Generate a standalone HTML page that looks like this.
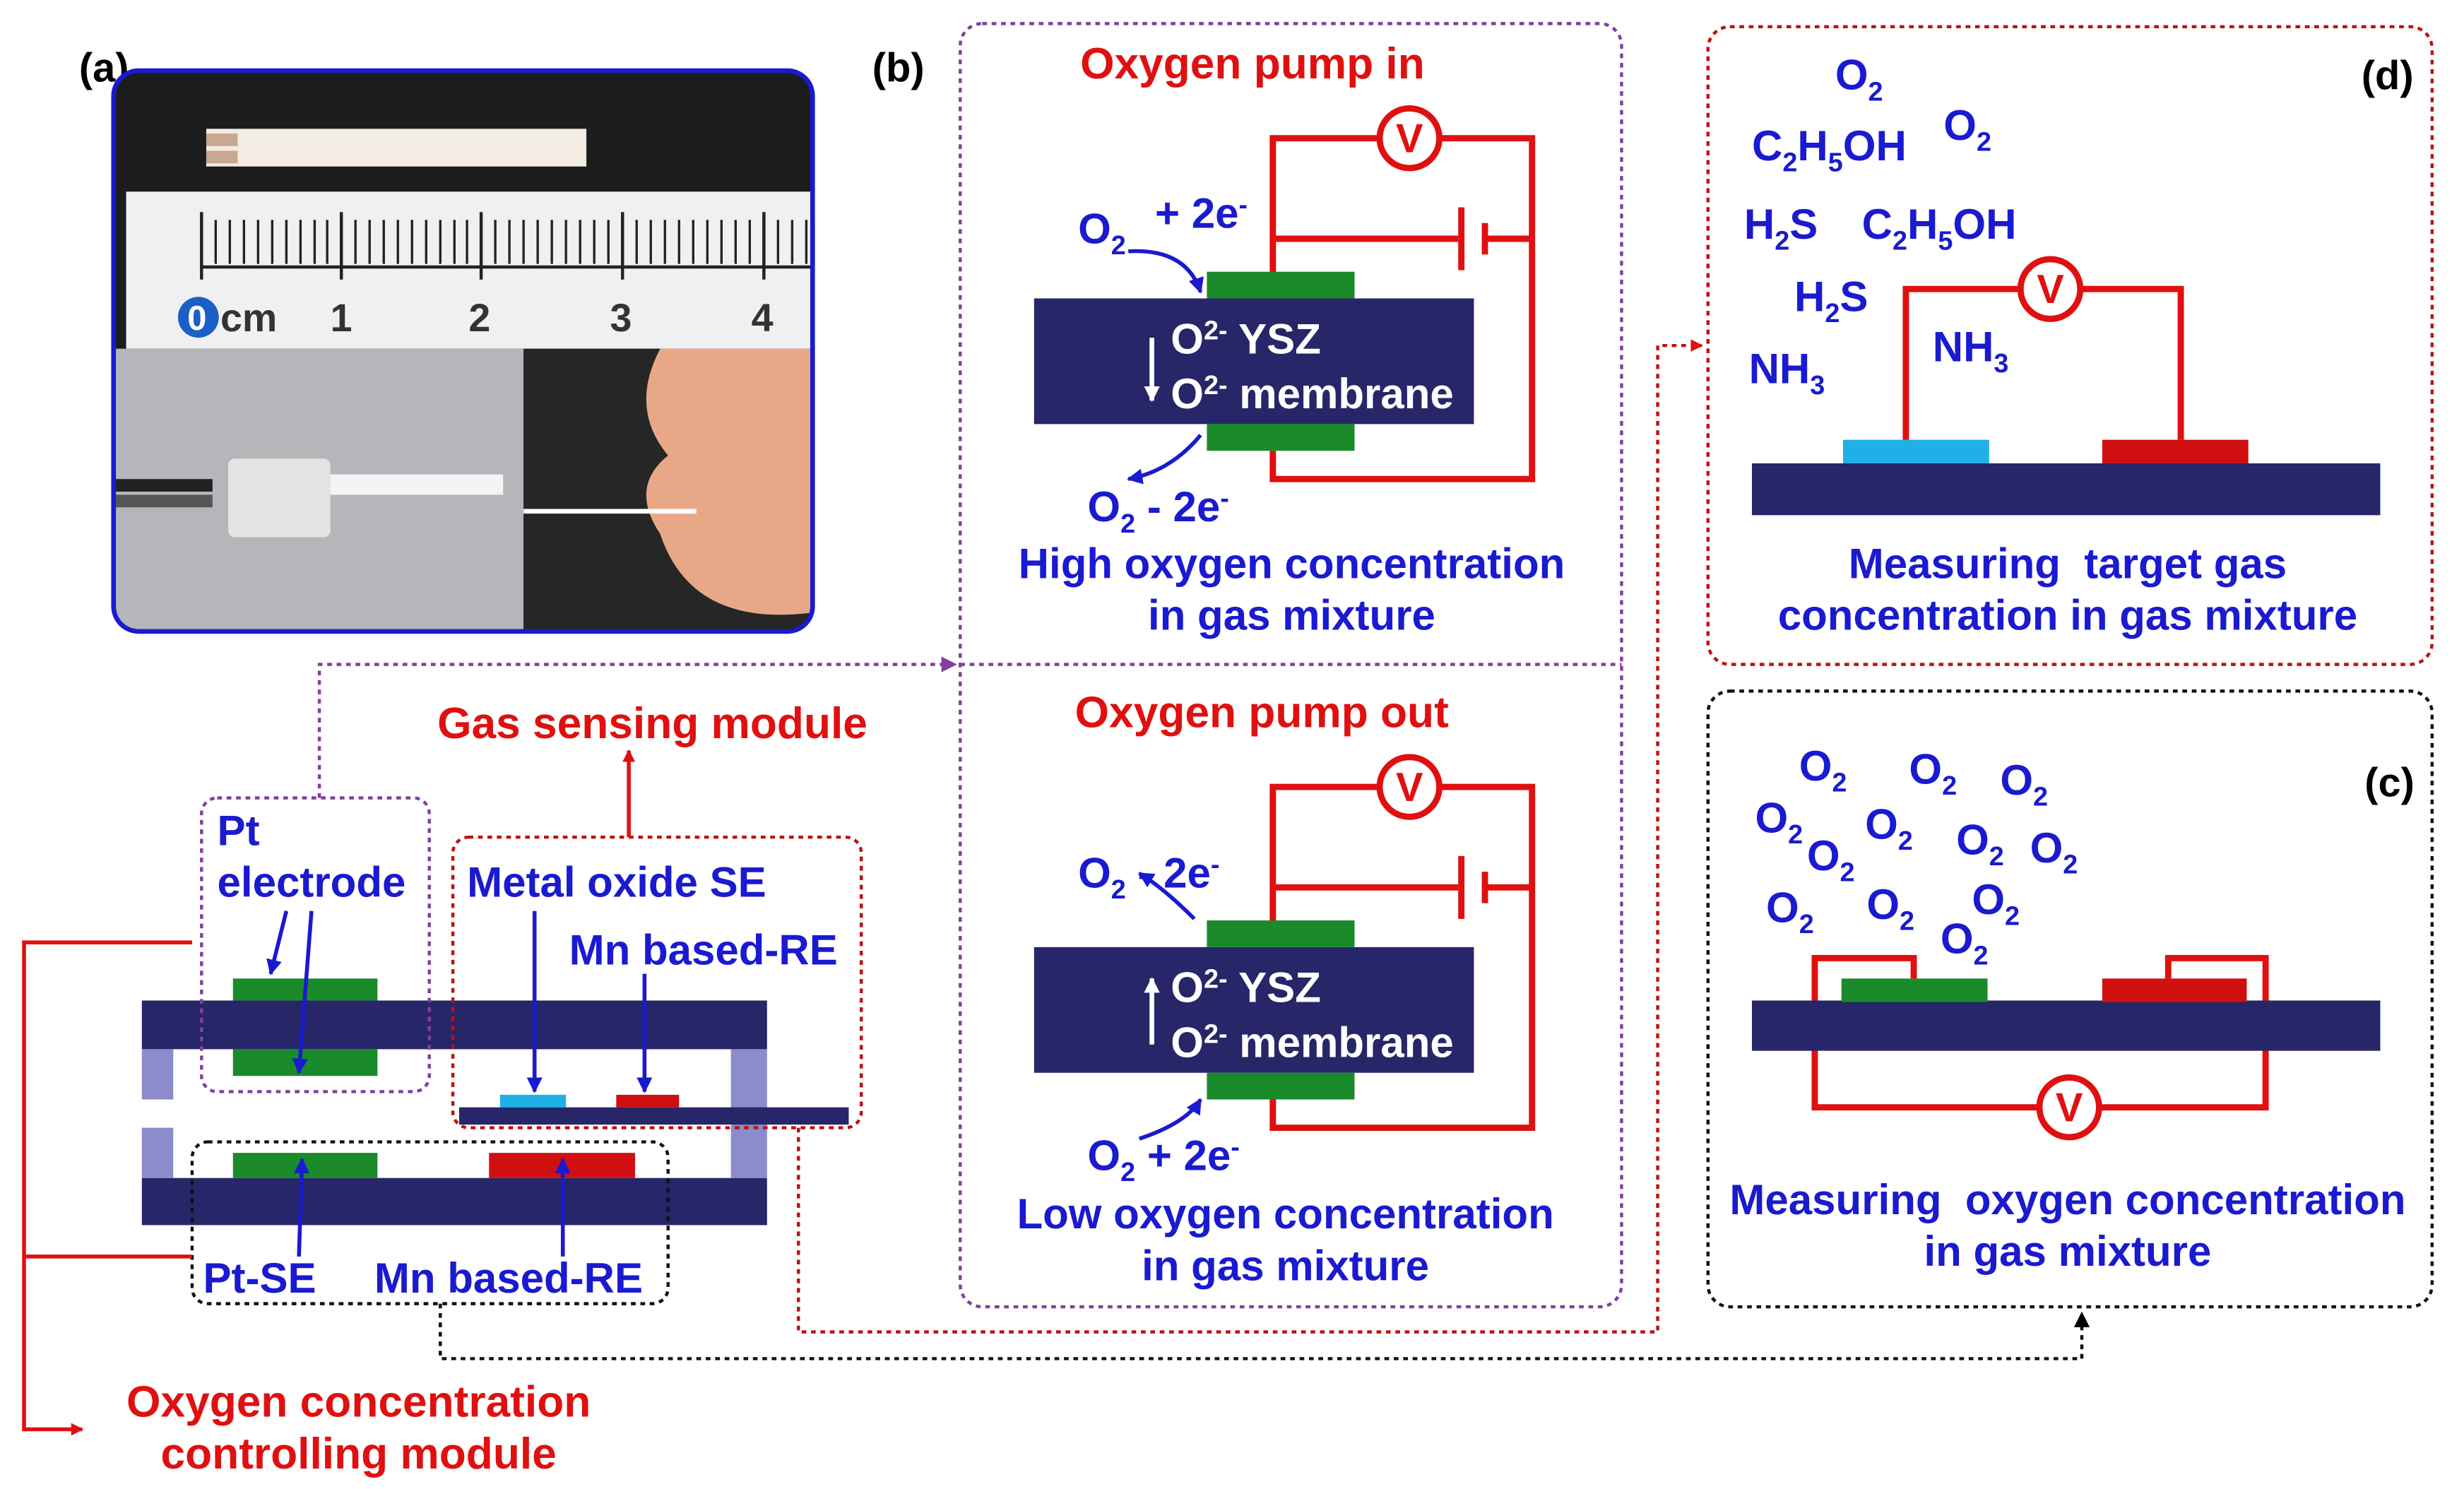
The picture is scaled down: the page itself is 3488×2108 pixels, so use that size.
<!DOCTYPE html>
<html><head><meta charset="utf-8"><style>html,body{margin:0;padding:0;background:#fff}svg{display:block}text{font-family:"Liberation Sans",sans-serif;font-weight:bold}</style></head><body>
<svg width="3488" height="2108" viewBox="0 0 1568 948" xmlns="http://www.w3.org/2000/svg">
<defs>
<marker id="ar" markerWidth="8" markerHeight="8" refX="7" refY="4" orient="auto" markerUnits="userSpaceOnUse"><path d="M0,0L8,4L0,8z" fill="#e01010"/></marker>
<marker id="ap" markerWidth="10" markerHeight="10" refX="9" refY="5" orient="auto" markerUnits="userSpaceOnUse"><path d="M0,0L10,5L0,10z" fill="#8040a0"/></marker>
<marker id="ak" markerWidth="10" markerHeight="10" refX="9" refY="5" orient="auto" markerUnits="userSpaceOnUse"><path d="M0,0L10,5L0,10z" fill="#000"/></marker>
<marker id="ab" markerWidth="10" markerHeight="10" refX="9" refY="5" orient="auto" markerUnits="userSpaceOnUse"><path d="M0,0L10,5L0,10z" fill="#1a1ad0"/></marker>
<marker id="aw" markerWidth="10" markerHeight="10" refX="9" refY="5" orient="auto" markerUnits="userSpaceOnUse"><path d="M0,0L10,5L0,10z" fill="#fff"/></marker>
<clipPath id="pc"><rect x="72" y="45" width="445" height="357" rx="16"/></clipPath>
</defs>
<!-- (a) photo -->
<text x="50" y="52" font-size="26">(a)</text>
<g clip-path="url(#pc)">
<rect x="72" y="45" width="445" height="357" fill="#1c1c1c"/>
<rect x="131" y="82" width="242" height="24" fill="#f3ece2"/>
<rect x="131" y="85" width="20" height="8" fill="#c8a890"/><rect x="131" y="96" width="20" height="8" fill="#c8a890"/>
<rect x="80" y="122" width="437" height="100" fill="#eef0f2"/>
<g stroke="#222" stroke-width="2">
<line x1="128" y1="170" x2="517" y2="170"/>
<line x1="128" y1="135" x2="128" y2="178"/><line x1="217" y1="135" x2="217" y2="178"/><line x1="306" y1="135" x2="306" y2="178"/><line x1="396" y1="135" x2="396" y2="178"/><line x1="486" y1="135" x2="486" y2="178"/>
</g>
<g stroke="#222" stroke-width="1.5">
<path d="M137 140V168M146 140V168M155 140V168M164 140V168M173 140V168M182 140V168M191 140V168M200 140V168M208 140V168M226 140V168M235 140V168M244 140V168M253 140V168M262 140V168M271 140V168M280 140V168M289 140V168M297 140V168M315 140V168M324 140V168M333 140V168M342 140V168M351 140V168M360 140V168M369 140V168M378 140V168M387 140V168M405 140V168M414 140V168M423 140V168M432 140V168M441 140V168M450 140V168M459 140V168M468 140V168M477 140V168M495 140V168M504 140V168M513 140V168"/>
</g>
<circle cx="126" cy="202" r="13" fill="#1a5fc8"/>
<text x="119" y="210" font-size="22" fill="#fff" font-weight="normal">0</text>
<text x="140" y="211" font-size="25" fill="#333" font-weight="normal">cm</text>
<text x="210" y="211" font-size="25" fill="#333" font-weight="normal">1</text>
<text x="298" y="211" font-size="25" fill="#333" font-weight="normal">2</text>
<text x="388" y="211" font-size="25" fill="#333" font-weight="normal">3</text>
<text x="478" y="211" font-size="25" fill="#333" font-weight="normal">4</text>
<rect x="72" y="222" width="261" height="180" fill="#b4b6ba"/>
<rect x="333" y="222" width="184" height="180" fill="#262626"/>
<path d="M420 222 Q400 260 425 290 Q400 310 420 340 Q440 400 517 390 V222z" fill="#e8a888"/>
<rect x="333" y="324" width="110" height="3" fill="#fff"/>
<rect x="72" y="305" width="63" height="8" fill="#222"/>
<rect x="72" y="315" width="63" height="8" fill="#555"/>
<rect x="145" y="292" width="65" height="50" rx="4" fill="#e4e4e2"/>
<rect x="210" y="302" width="110" height="13" fill="#f4f4f4"/>
</g>
<rect x="72" y="45" width="445" height="357" rx="16" fill="none" stroke="#1a1ad0" stroke-width="3"/>

<!-- (b) -->
<text x="555" y="52" font-size="26">(b)</text>
<rect x="611" y="15" width="421" height="817" rx="14" fill="none" stroke="#8040a0" stroke-width="2" stroke-dasharray="3,3"/>
<line x1="611" y1="423" x2="1032" y2="423" stroke="#8040a0" stroke-width="2" stroke-dasharray="3,3"/>
<g id="pump">
<g stroke="#e01010" stroke-width="4" fill="none">
<path d="M810 175V88H877M917 88H975V305H810V287"/>
<path d="M810 152H928M945 152H975"/>
<line x1="930" y1="132" x2="930" y2="172"/><line x1="945" y1="142" x2="945" y2="162"/>
</g>
<circle cx="897" cy="88" r="19" fill="#fff" stroke="#e01010" stroke-width="4"/>
<text x="897" y="97" font-size="26" fill="#e01010" text-anchor="middle">V</text>
<rect x="658" y="190" width="280" height="80" fill="#262668"/>
<rect x="768" y="173" width="94" height="17" fill="#1a8a2a"/>
<rect x="768" y="270" width="94" height="17" fill="#1a8a2a"/>
</g>
<use href="#pump" transform="translate(0,413)"/>
<text x="797" y="50" font-size="28" fill="#e01010" text-anchor="middle">Oxygen pump in</text>
<text x="803" y="463" font-size="28" fill="#e01010" text-anchor="middle">Oxygen pump out</text>
<g fill="#fff" font-size="27">
<text x="745" y="225">O<tspan font-size="17" dy="-9">2-</tspan><tspan dy="9"> YSZ</tspan></text>
<text x="745" y="260">O<tspan font-size="17" dy="-9">2-</tspan><tspan dy="9"> membrane</tspan></text>
<text x="745" y="638">O<tspan font-size="17" dy="-9">2-</tspan><tspan dy="9"> YSZ</tspan></text>
<text x="745" y="673">O<tspan font-size="17" dy="-9">2-</tspan><tspan dy="9"> membrane</tspan></text>
</g>
<line x1="733" y1="215" x2="733" y2="255" stroke="#fff" stroke-width="3" marker-end="url(#aw)"/>
<line x1="733" y1="665" x2="733" y2="623" stroke="#fff" stroke-width="3" marker-end="url(#aw)"/>
<g fill="#1a1ad0" font-size="27">
<text x="686" y="155">O<tspan font-size="17" dy="7">2</tspan></text>
<text x="735" y="145">+ 2e<tspan font-size="17" dy="-9">-</tspan></text>
<text x="692" y="332">O<tspan font-size="17" dy="7">2</tspan><tspan dy="-7"> - 2e</tspan><tspan font-size="17" dy="-9">-</tspan></text>
<text x="686" y="565">O<tspan font-size="17" dy="7">2</tspan><tspan dy="-7"> - 2e</tspan><tspan font-size="17" dy="-9">-</tspan></text>
<text x="692" y="745">O<tspan font-size="17" dy="7">2</tspan><tspan dy="-7"> + 2e</tspan><tspan font-size="17" dy="-9">-</tspan></text>
<text x="822" y="368" text-anchor="middle">High oxygen concentration</text>
<text x="822" y="401" text-anchor="middle">in gas mixture</text>
<text x="818" y="782" text-anchor="middle">Low oxygen concentration</text>
<text x="818" y="815" text-anchor="middle">in gas mixture</text>
</g>
<g stroke="#1a1ad0" stroke-width="2.5" fill="none">
<path d="M718 160 Q755 158 764 186" marker-end="url(#ab)"/>
<path d="M764 277 Q745 300 718 305" marker-end="url(#ab)"/>
<path d="M760 585 Q740 565 725 556" marker-end="url(#ab)"/>
<path d="M725 725 Q755 715 764 700" marker-end="url(#ab)"/>
</g>

<!-- (d) -->
<rect x="1087" y="17" width="461" height="406" rx="14" fill="none" stroke="#c01010" stroke-width="2" stroke-dasharray="3,3"/>
<text x="1503" y="57" font-size="26">(d)</text>
<g fill="#1a1ad0" font-size="27">
<text x="1168" y="57">O<tspan font-size="17" dy="7">2</tspan></text>
<text x="1237" y="89">O<tspan font-size="17" dy="7">2</tspan></text>
<text x="1115" y="102">C<tspan font-size="17" dy="7">2</tspan><tspan dy="-7">H</tspan><tspan font-size="17" dy="7">5</tspan><tspan dy="-7">OH</tspan></text>
<text x="1110" y="152">H<tspan font-size="17" dy="7">2</tspan><tspan dy="-7">S</tspan></text>
<text x="1185" y="152">C<tspan font-size="17" dy="7">2</tspan><tspan dy="-7">H</tspan><tspan font-size="17" dy="7">5</tspan><tspan dy="-7">OH</tspan></text>
<text x="1142" y="198">H<tspan font-size="17" dy="7">2</tspan><tspan dy="-7">S</tspan></text>
<text x="1113" y="244">NH<tspan font-size="17" dy="7">3</tspan></text>
<text x="1230" y="230">NH<tspan font-size="17" dy="7">3</tspan></text>
<text x="1316" y="368" text-anchor="middle" xml:space="preserve">Measuring  target gas</text>
<text x="1316" y="401" text-anchor="middle">concentration in gas mixture</text>
</g>
<path d="M1213 280V184H1285M1325 184H1388V280" stroke="#e01010" stroke-width="4" fill="none"/>
<circle cx="1305" cy="184" r="19" fill="#fff" stroke="#e01010" stroke-width="4"/>
<text x="1305" y="193" font-size="26" fill="#e01010" text-anchor="middle">V</text>
<rect x="1115" y="295" width="400" height="33" fill="#262668"/>
<rect x="1173" y="280" width="93" height="15" fill="#20b0e8"/>
<rect x="1338" y="280" width="93" height="15" fill="#d01010"/>

<!-- (c) -->
<rect x="1087" y="440" width="461" height="392" rx="14" fill="none" stroke="#111" stroke-width="2" stroke-dasharray="3,3"/>
<text x="1505" y="507" font-size="26">(c)</text>
<g fill="#1a1ad0" font-size="27">
<text x="1145" y="497">O<tspan font-size="17" dy="7">2</tspan></text>
<text x="1215" y="499">O<tspan font-size="17" dy="7">2</tspan></text>
<text x="1273" y="506">O<tspan font-size="17" dy="7">2</tspan></text>
<text x="1117" y="530">O<tspan font-size="17" dy="7">2</tspan></text>
<text x="1187" y="534">O<tspan font-size="17" dy="7">2</tspan></text>
<text x="1245" y="544">O<tspan font-size="17" dy="7">2</tspan></text>
<text x="1292" y="549">O<tspan font-size="17" dy="7">2</tspan></text>
<text x="1150" y="554">O<tspan font-size="17" dy="7">2</tspan></text>
<text x="1124" y="587">O<tspan font-size="17" dy="7">2</tspan></text>
<text x="1188" y="585">O<tspan font-size="17" dy="7">2</tspan></text>
<text x="1255" y="582">O<tspan font-size="17" dy="7">2</tspan></text>
<text x="1235" y="607">O<tspan font-size="17" dy="7">2</tspan></text>
<text x="1316" y="773" text-anchor="middle" xml:space="preserve">Measuring  oxygen concentration</text>
<text x="1316" y="806" text-anchor="middle">in gas mixture</text>
</g>
<path d="M1218 623V610H1155V705H1297M1337 705H1442V610H1380V623" stroke="#e01010" stroke-width="4" fill="none"/>
<rect x="1115" y="637" width="400" height="32" fill="#262668"/>
<rect x="1172" y="623" width="93" height="15" fill="#1a8a2a"/>
<rect x="1338" y="623" width="92" height="15" fill="#d01010"/>
<circle cx="1317" cy="705" r="19" fill="#fff" stroke="#e01010" stroke-width="4"/>
<text x="1317" y="714" font-size="26" fill="#e01010" text-anchor="middle">V</text>

<!-- left device -->
<rect x="90" y="637" width="398" height="31" fill="#262668"/>
<rect x="90" y="750" width="398" height="30" fill="#262668"/>
<rect x="148" y="623" width="92" height="14" fill="#1a8a2a"/>
<rect x="148" y="668" width="92" height="17" fill="#1a8a2a"/>
<rect x="148" y="734" width="92" height="16" fill="#1a8a2a"/>
<rect x="311" y="734" width="93" height="16" fill="#d01010"/>
<rect x="90" y="668" width="20" height="32" fill="#8c8ccc"/>
<rect x="90" y="718" width="20" height="32" fill="#8c8ccc"/>
<rect x="465" y="668" width="23" height="82" fill="#8c8ccc"/>
<rect x="292" y="705" width="248" height="11" fill="#262668"/>
<rect x="318" y="697" width="42" height="8" fill="#20b0e8"/>
<rect x="392" y="697" width="40" height="8" fill="#d01010"/>
<rect x="128" y="508" width="145" height="187" rx="10" fill="none" stroke="#8040a0" stroke-width="2" stroke-dasharray="3,3"/>
<rect x="288" y="533" width="260" height="185" rx="10" fill="none" stroke="#c01010" stroke-width="2" stroke-dasharray="3,3"/>
<rect x="122" y="727" width="303" height="103" rx="10" fill="none" stroke="#111" stroke-width="2" stroke-dasharray="3,3"/>
<g fill="#1a1ad0" font-size="27">
<text x="138" y="538">Pt</text>
<text x="138" y="571">electrode</text>
<text x="297" y="571">Metal oxide SE</text>
<text x="362" y="614">Mn based-RE</text>
<text x="129" y="823">Pt-SE</text>
<text x="238" y="823">Mn based-RE</text>
</g>
<g stroke="#1a1ad0" stroke-width="2.5" fill="none">
<line x1="182" y1="580" x2="172" y2="620" marker-end="url(#ab)"/>
<line x1="198" y1="580" x2="190" y2="683" marker-end="url(#ab)"/>
<line x1="340" y1="580" x2="340" y2="695" marker-end="url(#ab)"/>
<line x1="410" y1="620" x2="410" y2="695" marker-end="url(#ab)"/>
<line x1="190" y1="800" x2="192" y2="738" marker-end="url(#ab)"/>
<line x1="358" y1="800" x2="358" y2="738" marker-end="url(#ab)"/>
</g>
<text x="415" y="470" font-size="28" fill="#e01010" text-anchor="middle">Gas sensing module</text>
<line x1="400" y1="533" x2="400" y2="478" stroke="#e01010" stroke-width="2.5" marker-end="url(#ar)"/>
<path d="M122 600H15V800H122M15 800V910H52" stroke="#e01010" stroke-width="2.5" fill="none" marker-end="url(#ar)"/>
<text x="228" y="902" font-size="28" fill="#e01010" text-anchor="middle">Oxygen concentration</text>
<text x="228" y="935" font-size="28" fill="#e01010" text-anchor="middle">controlling module</text>

<!-- dotted connectors -->
<path d="M203 508V423H608" stroke="#8040a0" stroke-width="2" stroke-dasharray="3,3" fill="none" marker-end="url(#ap)"/>
<path d="M508 718V848H1055V220H1083" stroke="#c01010" stroke-width="2" stroke-dasharray="3,3" fill="none" marker-end="url(#ar)"/>
<path d="M280 830V865H1325V836" stroke="#111" stroke-width="2" stroke-dasharray="3,3" fill="none" marker-end="url(#ak)"/>
</svg>
</body></html>
